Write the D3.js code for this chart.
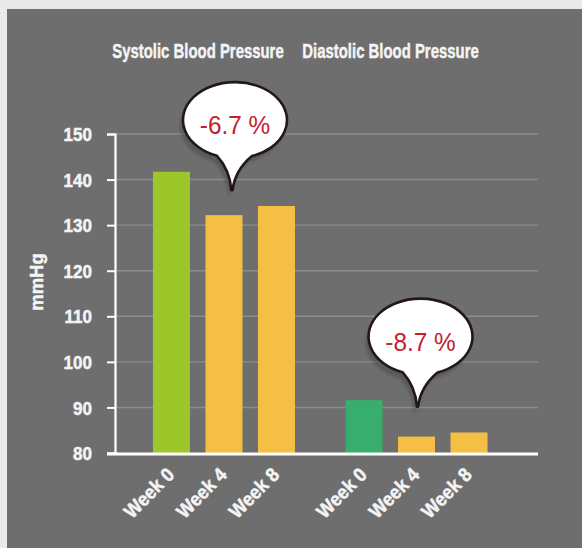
<!DOCTYPE html>
<html>
<head>
<meta charset="utf-8">
<script src="https://cdn.jsdelivr.net/npm/d3@7"></script>
<style>
  html, body { margin: 0; padding: 0; background: #e9e9e9; }
  svg { display: block; }
  .lbl { font-family: "Liberation Sans", Arial, sans-serif; font-weight: bold; fill: #f4f4f4; stroke: #f4f4f4; stroke-width: 0.5px; }
  .pct { font-family: "Liberation Sans", Arial, sans-serif; font-weight: normal; fill: #c4202f; }
</style>
</head>
<body>
<svg id="chart" width="582" height="548"></svg>
<script>
// Blood pressure readings (mmHg) at each visit
const groups = ["Systolic Blood Pressure", "Diastolic Blood Pressure"];
const weeks = ["Week 0", "Week 4", "Week 8"];
const systolic = [141.7, 132.2, 134.2];
const diastolic = [91.6, 83.6, 84.5];
const yTicks = [80, 90, 100, 110, 120, 130, 140, 150];
const changeLabels = ["-6.7 %", "-8.7 %"];
const yLabel = "mmHg";

const series = [systolic, diastolic];
const baseColors = ["#9dc62a", "#38ae6e"];
const laterColor = "#f5bf45";

const svg = d3.select("#chart");
const W = 582, H = 548;

// dark panel
svg.append("rect").attr("x", 7).attr("y", 9).attr("width", W - 7).attr("height", H - 9).attr("fill", "#6e6e6e");

const defs = svg.append("defs");
defs.append("filter").attr("id", "soft").attr("x", "-20%").attr("y", "-20%").attr("width", "140%").attr("height", "140%")
  .append("feGaussianBlur").attr("stdDeviation", 1.5);

const y = d3.scaleLinear().domain([80, 150]).range([453, 134]);
const x0 = d3.scaleBand().domain(groups).range([115, 525.5]).paddingInner(0.182).paddingOuter(0.157);
const x1 = d3.scaleBand().domain(weeks).range([0, x0.bandwidth()]).paddingInner(0.295).paddingOuter(0.1475);

const axisLeft = 115, gridRight = 538;

// gridlines
svg.append("g").selectAll("line").data(yTicks.filter(t => t > 80)).join("line")
  .attr("x1", axisLeft).attr("x2", gridRight)
  .attr("y1", d => y(d)).attr("y2", d => y(d))
  .attr("stroke", "#8c8c8c").attr("stroke-width", 1.4);

// bars
const gBars = svg.append("g");
groups.forEach((g, gi) => {
  gBars.append("g").attr("transform", `translate(${x0(g)},0)`)
    .selectAll("rect").data(series[gi]).join("rect")
    .attr("x", (d, i) => x1(weeks[i]))
    .attr("width", x1.bandwidth())
    .attr("y", d => y(d))
    .attr("height", d => y(80) - y(d))
    .attr("fill", (d, i) => i === 0 ? baseColors[gi] : laterColor);
});

// y axis (labels condensed horizontally)
const yAxis = svg.append("g").attr("transform", `translate(${axisLeft},0)`)
  .call(d3.axisLeft(y).tickValues(yTicks).tickSize(8).tickFormat(d3.format("d")));
yAxis.attr("font-family", null).attr("font-size", null);
yAxis.select(".domain").attr("stroke", "#ffffff").attr("stroke-width", 2.2);
yAxis.selectAll(".tick line").attr("stroke", "#ffffff").attr("stroke-width", 2);
yAxis.selectAll(".tick text").attr("class", "lbl").attr("fill", null)
  .attr("x", 0).attr("dy", "0.36em")
  .attr("transform", "translate(-23,0) scale(0.92,1)")
  .style("font-size", "18.5px");

// baseline
svg.append("line").attr("x1", 107).attr("x2", gridRight).attr("y1", y(80) + 1).attr("y2", y(80) + 1)
  .attr("stroke", "#ffffff").attr("stroke-width", 3);

// y label
svg.append("text").attr("class", "lbl")
  .attr("transform", `translate(43,282) rotate(-90)`)
  .attr("text-anchor", "middle")
  .style("font-size", "18.5px").text(yLabel);

// group titles
svg.append("g").selectAll("text").data(groups).join("text").attr("class", "lbl")
  .attr("transform", d => `translate(${x0(d) + x0.bandwidth() / 2 - 26},58) scale(0.71,1)`)
  .attr("text-anchor", "middle")
  .style("font-size", "21px").text(d => d);

// rotated week labels
groups.forEach(g => {
  svg.append("g").selectAll("text").data(weeks).join("text").attr("class", "lbl")
    .attr("transform", d => `translate(${x0(g) + x1(d) + x1.bandwidth() / 2 + 4},476) rotate(-45) scale(0.92,1)`)
    .attr("text-anchor", "end")
    .style("font-size", "19.5px").text(d => d);
});

// speech bubbles with percent change, tail pointing at the Week 4 bar
const rx = 52, ry = 38, cx = 3, cy = -70;
function ellY(px) { const t = (px - cx) / rx; return cy + ry * Math.sqrt(1 - t * t); }
const lx = -15, rxp = 20;
const bubblePath = `M${lx},${ellY(lx)} A${rx},${ry} 0 1 1 ${rxp},${ellY(rxp)} Q3,-20 0.6,0 L-0.6,0 Q-2,-20 ${lx},${ellY(lx)} Z`;

groups.forEach((g, gi) => {
  const tipX = x0(g) + x1("Week 4") + x1.bandwidth() / 2 + (gi === 0 ? 8 : 1);
  const tipY = y(series[gi][1]) - (gi === 0 ? 25 : 30);
  const b = svg.append("g").attr("transform", `translate(${tipX},${tipY})`);
  b.append("path").attr("d", bubblePath).attr("transform", "translate(-3,6)")
    .attr("fill", "#4a4a4a").attr("opacity", 0.55).attr("filter", "url(#soft)");
  b.append("path").attr("d", bubblePath).attr("fill", "#ffffff")
    .attr("stroke", "#231815").attr("stroke-width", 2.6).attr("stroke-linejoin", "round");
  b.append("text").attr("class", "pct")
    .attr("transform", `translate(${cx},-56) scale(0.92,1)`)
    .attr("text-anchor", "middle")
    .style("font-size", "26.5px").text(changeLabels[gi]);
});
</script>
</body>
</html>
